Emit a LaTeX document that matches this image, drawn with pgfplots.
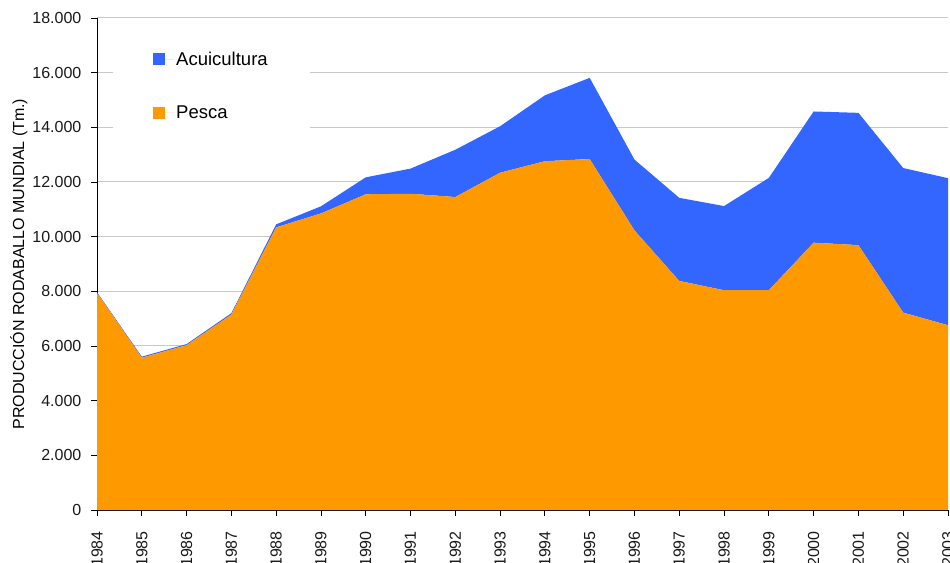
\documentclass[border=0pt]{standalone}
\usepackage{fontspec}
\setmainfont{Liberation Sans}
\usepackage{pgfplots}
\pgfplotsset{compat=1.18}
\definecolor{pesca}{HTML}{FF9900}
\definecolor{acui}{HTML}{3366FF}
\definecolor{gridc}{HTML}{C8C8C8}
\pgfplotsset{layers/mylayers/.define layer set={axis background,axis grid,main,axis ticks,axis lines,axis tick labels,axis descriptions,axis foreground}{}}
\begin{document}
\begin{tikzpicture}
\begin{axis}[
  set layers=mylayers,
  at={(0pt,0pt)}, anchor=south west,
  scale only axis, width=851pt, height=492pt,
  xmin=1984, xmax=2003, ymin=0, ymax=18000,
  scaled x ticks=false, scaled y ticks=false,
  axis x line=bottom, axis y line=left,
  axis line style={-, black, line width=0.8pt},
  ymajorgrids, grid style={gridc, line width=1pt},
  tick align=outside,
  major tick length=6pt,
  tick style={black, line width=0.8pt},
  ytick={0,2000,...,18000},
  yticklabels={0,2.000,4.000,6.000,8.000,10.000,12.000,14.000,16.000,18.000},
  xtick={1984,...,2003},
  xticklabels={1984,1985,1986,1987,1988,1989,1990,1991,1992,1993,1994,1995,1996,1997,1998,1999,2000,2001,2002,2003},
  y tick label style={font=\fontsize{16}{19}\selectfont, color=black!90, inner xsep=9.5pt},
  x tick label style={font=\fontsize{16}{19}\selectfont, color=black!90, rotate=90, anchor=east, inner xsep=15pt},
  ylabel={PRODUCCIÓN RODABALLO MUNDIAL (Tm.)},
  ylabel style={font=\fontsize{16}{19}\selectfont, at={(axis description cs:-0.0917,0.5)}, anchor=center},
  stack plots=y,
  reverse legend,
  legend style={draw=none, fill=white, at={(axis description cs:0.0188,0.9654)}, anchor=north west,
    font=\fontsize{18.5}{22}\selectfont, inner xsep=40pt, inner ysep=14.5pt, row sep=35pt},
  legend cell align=left,
  legend image code/.code={\fill[#1] (0pt,-6pt) rectangle (12pt,6pt); \path (0pt,0pt) -- (21pt,0pt);},
]
\addplot[draw=none, fill=pesca] coordinates {
(1984,7940) (1985,5570) (1986,6030) (1987,7150) (1988,10340) (1989,10850) (1990,11550)
(1991,11570) (1992,11450) (1993,12340) (1994,12760) (1995,12840) (1996,10230) (1997,8380)
(1998,8040) (1999,8040) (2000,9780) (2001,9690) (2002,7220) (2003,6760)} \closedcycle;
\addlegendentry{Pesca}
\addplot[draw=none, fill=acui] coordinates {
(1984,30) (1985,40) (1986,40) (1987,50) (1988,110) (1989,260) (1990,620)
(1991,920) (1992,1730) (1993,1700) (1994,2410) (1995,2970) (1996,2590) (1997,3040)
(1998,3080) (1999,4110) (2000,4800) (2001,4840) (2002,5290) (2003,5380)} \closedcycle;
\addlegendentry{Acuicultura}
\end{axis}
\pgfresetboundingbox
\useasboundingbox (-97pt,-52pt) rectangle (853pt,510pt);
\end{tikzpicture}
\end{document}
